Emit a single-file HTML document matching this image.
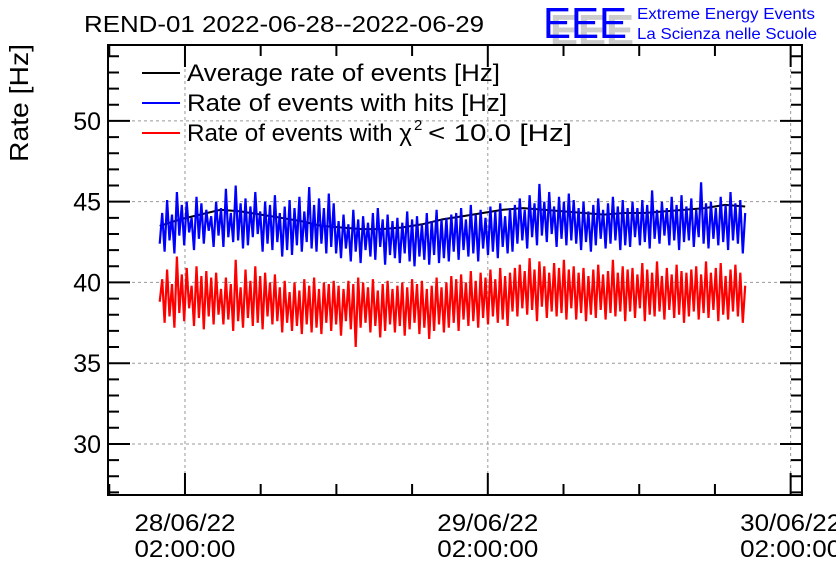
<!DOCTYPE html>
<html><head><meta charset="utf-8"><style>
body{margin:0;background:#fff;}
svg{display:block;font-family:"Liberation Sans",sans-serif;}
</style></head><body>
<svg id="chart" width="836" height="572" viewBox="0 0 836 572" xmlns="http://www.w3.org/2000/svg">
<rect width="836" height="572" fill="#fff"/>
<text x="84" y="32" font-size="23" fill="#000" textLength="400" lengthAdjust="spacingAndGlyphs">REND-01 2022-06-28--2022-06-29</text>
<g>
<text x="547" y="42" font-size="44" fill="#ccc" font-weight="bold" transform="translate(3,3)" textLength="84" lengthAdjust="spacingAndGlyphs">EEE</text>
<text x="543" y="38" font-size="44" fill="#0000ff" textLength="84" lengthAdjust="spacingAndGlyphs">EEE</text>
<text x="637" y="19" font-size="16" fill="#0000ff" textLength="178" lengthAdjust="spacingAndGlyphs">Extreme Energy Events</text>
<text x="637" y="39" font-size="16" fill="#0000ff" textLength="180" lengthAdjust="spacingAndGlyphs">La Scienza nelle Scuole</text>
</g>
<text transform="translate(28,103) rotate(-90)" text-anchor="middle" font-size="26" textLength="118" lengthAdjust="spacingAndGlyphs">Rate [Hz]</text>
<g id="grid"></g><g id="series"></g><g id="axes"></g>
<g font-size="24">
<g><line x1="142" y1="73" x2="180" y2="73" stroke="#000" stroke-width="2"/><text x="187" y="81" textLength="313" lengthAdjust="spacingAndGlyphs">Average rate of events [Hz]</text></g>
<g><line x1="142" y1="103" x2="180" y2="103" stroke="#00f" stroke-width="2"/><text x="187" y="111" textLength="320" lengthAdjust="spacingAndGlyphs">Rate of events with hits [Hz]</text></g>
<g><line x1="142" y1="133" x2="180" y2="133" stroke="#f00" stroke-width="2"/>
<text x="187" y="141" textLength="225" lengthAdjust="spacingAndGlyphs">Rate of events with χ</text>
<text x="414" y="130" font-size="15">2</text>
<text x="428" y="141" textLength="144" lengthAdjust="spacingAndGlyphs">&lt; 10.0 [Hz]</text></g>
</g>
</svg>
<script>
const blueVals=[42.4,44.3,41.9,45.1,42.6,44.2,41.8,45.6,42.9,44.8,42.3,45.0,43.1,44.0,42.0,45.3,42.7,44.9,42.4,44.5,43.2,44.1,42.2,45.0,
42.9,44.6,42.2,45.8,42.8,44.3,42.5,46.0,42.6,44.9,42.1,45.2,42.3,44.7,42.8,45.6,43.0,44.4,41.9,45.0,42.4,44.8,42.0,45.4,
42.5,44.3,41.6,44.7,42.0,45.1,41.7,44.6,42.3,45.3,41.9,44.4,42.5,45.9,42.1,44.8,41.9,45.2,42.4,44.6,41.8,45.5,42.2,44.9,
41.8,43.8,41.5,44.2,42.1,43.6,41.3,44.5,41.9,43.9,41.2,44.1,42.0,43.7,41.6,44.3,41.4,44.6,42.2,43.9,41.1,44.2,41.7,43.8,
41.5,44.0,41.2,43.7,41.8,44.4,41.3,43.9,41.0,44.1,41.6,43.6,41.4,44.3,41.1,43.8,41.7,44.5,41.2,43.9,41.5,44.0,41.3,44.2,
41.9,44.3,41.4,44.6,42.0,43.9,41.6,44.8,41.8,44.2,41.3,44.5,42.1,44.0,41.7,44.7,41.9,44.4,41.5,44.9,42.2,44.1,41.8,44.6,
41.9,44.8,42.4,45.2,42.6,44.5,42.1,45.4,42.8,44.9,42.3,46.1,42.9,45.0,42.5,45.6,43.0,44.7,42.2,45.3,42.7,45.0,42.3,45.5,
42.6,45.1,42.4,44.6,42.0,45.0,42.5,44.4,41.9,44.8,42.3,45.2,42.7,44.5,42.1,44.9,42.4,45.3,42.6,44.7,42.0,45.1,42.3,44.6,
42.2,45.0,42.8,44.6,42.3,45.1,42.5,44.8,42.1,45.7,42.7,44.5,42.4,45.0,42.9,44.6,42.3,45.3,42.6,44.8,42.0,45.4,42.5,44.7,
42.6,45.2,42.2,44.5,42.8,46.2,42.4,44.9,42.1,45.0,42.7,44.6,42.3,45.3,42.5,44.8,42.0,45.6,42.6,44.9,42.4,45.1,41.8,44.3];
const redVals=[38.8,40.2,37.5,40.8,37.9,39.9,37.2,41.6,38.1,40.5,37.6,40.9,38.4,39.8,37.3,41.0,37.8,40.4,37.1,40.7,37.9,40.3,37.4,40.6,
38.0,39.6,37.4,40.3,37.7,39.9,37.0,41.4,37.6,39.7,37.2,40.8,37.8,40.1,37.3,41.0,37.5,40.4,37.1,40.6,37.9,40.0,37.4,40.5,
37.6,39.7,36.9,40.1,37.5,39.4,37.0,40.0,37.3,39.5,36.8,40.2,37.4,39.8,36.9,40.3,37.2,39.6,36.8,40.0,37.5,39.9,37.0,40.1,
37.4,39.8,36.7,39.6,37.6,40.1,37.1,39.9,36.0,40.3,37.2,40.0,37.5,39.7,36.9,40.2,37.3,39.5,36.6,39.9,37.0,40.1,37.4,39.6,
36.9,39.8,37.3,40.0,36.7,39.7,37.1,40.2,37.5,39.9,36.8,40.1,37.2,39.6,36.5,39.8,37.0,40.3,37.4,39.7,36.9,40.0,37.2,40.4,
37.5,40.2,37.0,40.5,37.7,40.0,37.3,40.7,37.6,40.1,37.2,40.6,37.8,40.3,37.4,40.8,37.9,40.2,37.5,40.9,37.7,40.4,37.3,40.6,
38.2,40.9,37.9,41.1,38.4,40.7,38.0,41.5,38.3,40.8,37.6,41.3,38.5,41.0,37.8,40.6,38.2,41.2,37.9,40.9,38.1,41.4,37.7,40.8,
38.4,41.0,37.7,40.6,38.1,40.9,37.6,40.4,38.0,40.8,37.8,41.1,38.3,40.5,37.7,40.7,38.1,41.4,37.9,40.6,38.2,41.0,37.6,40.8,
38.2,40.9,37.8,40.5,38.4,41.2,37.6,40.8,38.0,40.6,37.9,41.3,38.2,40.4,37.7,40.9,38.3,40.5,37.8,41.1,38.0,40.7,37.5,40.6,
37.9,40.8,38.2,41.0,37.7,40.5,38.1,41.3,37.8,40.6,38.3,40.9,37.6,41.2,38.0,40.4,37.7,40.8,38.2,41.1,37.9,40.6,37.5,39.8];
const avgVals=[43.5,43.9,44.2,44.5,44.4,44.2,44.0,43.8,43.5,43.4,43.3,43.3,43.4,43.6,43.9,44.1,44.3,44.5,44.6,44.5,44.4,44.3,44.2,44.3,44.3,44.4,44.5,44.6,44.8,44.7];
const tStart=-2.0, tEnd=44.4; // hours since 28/06/22 02:00
const xTickHours=[0,24,48];
const xTickLabels=[["28/06/22","02:00:00"],["29/06/22","02:00:00"],["30/06/22","02:00:00"]];
const yTicks=[30,35,40,45,50];

const L=108,R=802,T=45,B=495, xMin=-6.1, xMax=48.9, yMin=26.84, yMax=54.7;
const X=h=>L+(h-xMin)/(xMax-xMin)*(R-L);
const Y=v=>B-(v-yMin)/(yMax-yMin)*(B-T);
const NS="http://www.w3.org/2000/svg";
function mk(p,tag,a){const e=document.createElementNS(NS,tag);for(const k in a)e.setAttribute(k,a[k]);p.appendChild(e);return e;}
const grid=document.getElementById('grid'),axes=document.getElementById('axes'),ser=document.getElementById('series');
xTickHours.forEach((h,i)=>{
  if(X(h)<R-2){const g=mk(grid,'line',{x1:X(h),x2:X(h),y1:T,y2:B,stroke:'#999','stroke-dasharray':'3,3','stroke-width':1});
  
  }
  xTickLabels[i].forEach((s,j)=>{const t=mk(axes,'text',{x:X(h),y:531+j*26,'font-size':24,'text-anchor':'middle',textLength:101,lengthAdjust:'spacingAndGlyphs'});t.textContent=s;
  
  });
});
yTicks.forEach(v=>{
  const g=mk(grid,'line',{x1:L,x2:R,y1:Y(v),y2:Y(v),stroke:'#999','stroke-dasharray':'3,3','stroke-width':1});
  
  
  const t=mk(axes,'text',{x:101,y:Y(v)+9,'font-size':25,'text-anchor':'end'});t.textContent=v;
  
  
});
const fr=mk(axes,'rect',{x:L,y:T,width:R-L,height:B-T,fill:'none',stroke:'#000','stroke-width':2});


let tk='';
for(let v=27;v<=54;v++){const len=v%5==0?22:11;tk+=`M${L},${Y(v)}h${len}M${R},${Y(v)}h${-len}`;}
for(let h=-6;h<=48;h+=6){if(X(h)<L)continue;const len=h%24==0?22:11;tk+=`M${X(h)},${B}v${-len}M${X(h)},${T}v${len}`;}
const tp=mk(axes,'path',{d:tk,stroke:'#000','stroke-width':2,fill:'none'});


function line(vals,color,w,name){
  const n=vals.length;const d=vals.map((v,i)=>(i?'L':'M')+X(tStart+(tEnd-tStart)*i/(n-1)).toFixed(1)+','+Y(v).toFixed(1)).join('');
  const p=mk(ser,'path',{d,stroke:color,'stroke-width':w,fill:'none','stroke-linejoin':'bevel'});
  
  
}
line(avgVals,'#000',2,'series-average-rate');
line(blueVals,'#00f',2.2,'series-rate-with-hits');
line(redVals,'#f00',2.2,'series-rate-chi2');
</script>
</body></html>
